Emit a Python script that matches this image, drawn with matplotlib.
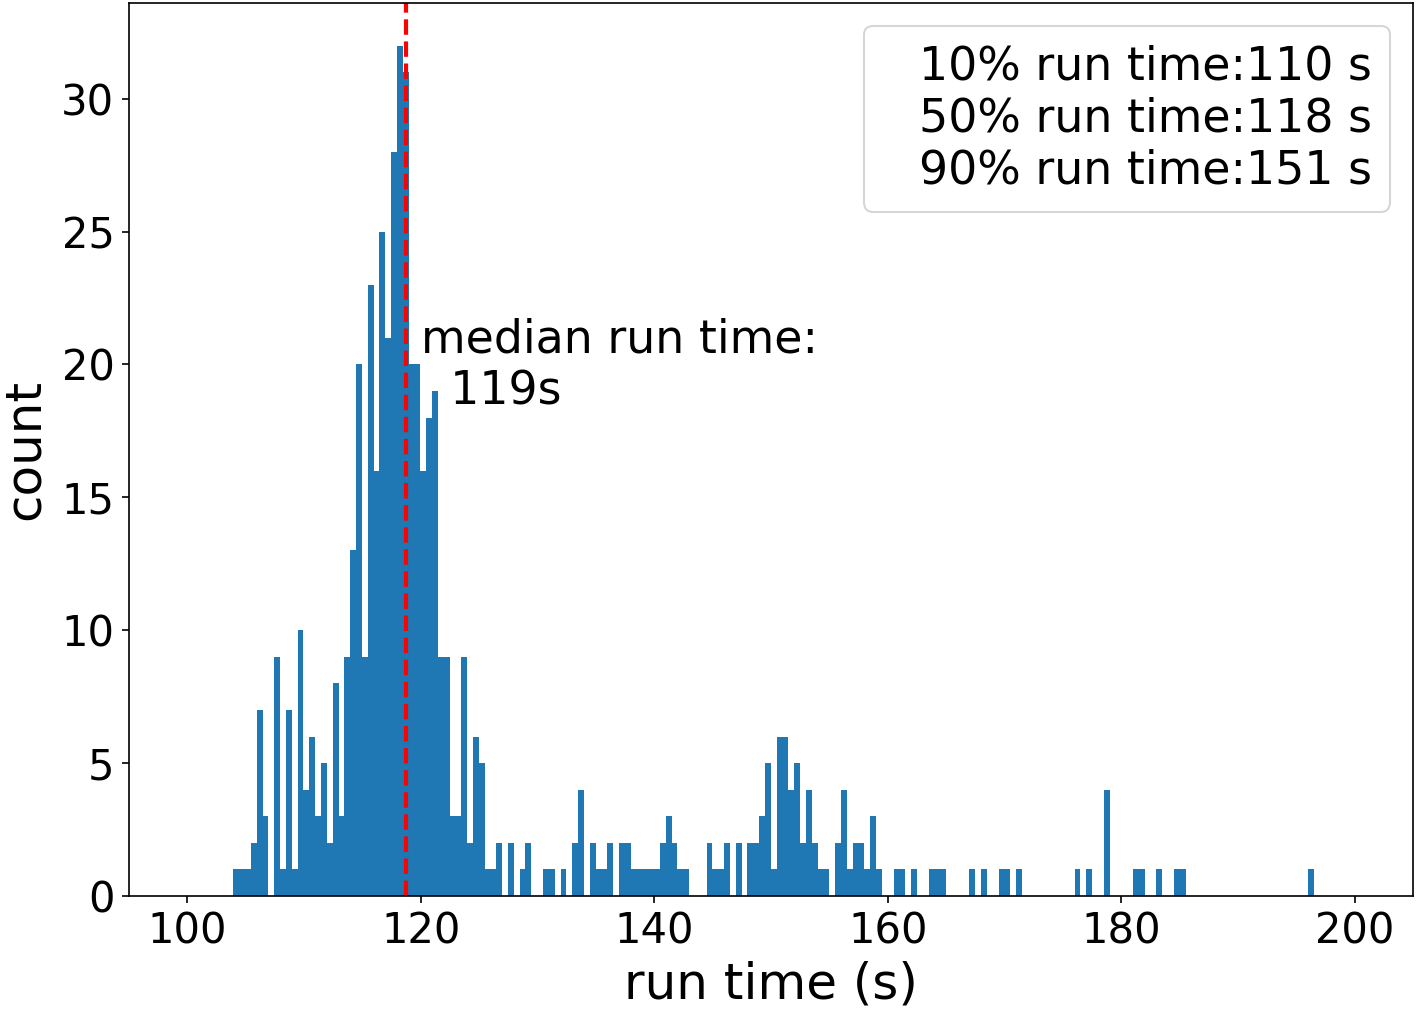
import matplotlib
matplotlib.use('Agg')
import matplotlib.pyplot as plt
import numpy as np

# ---- data ----
bin_start = 103.94
bin_width = 0.5005
counts = [
    1, 1, 1, 2, 7, 3, 0,
    9, 1, 7, 1, 10, 4, 6, 3, 5, 2, 8, 3, 9,
    13, 20, 9, 23, 16, 25, 21, 28, 32, 31, 20, 20, 16, 18, 19, 9, 9, 3, 3, 9, 2,
    6, 5, 1, 1, 2, 0, 2, 0, 1, 2, 0, 0, 1, 1, 0, 1, 0, 2, 4, 0,
    2, 1, 1, 2, 0, 2, 2, 1, 1, 1, 1, 1, 2, 3, 2, 1, 1, 0, 0, 0,
    2, 1, 1, 2, 0, 2, 0, 2, 2, 3, 5, 1, 6, 6, 4, 5, 2, 4, 2, 1, 1, 0, 2, 4, 1, 2, 2, 1, 3, 1, 0, 0, 1, 1,
    0, 1, 0, 0, 1, 1, 1, 0, 0, 0, 0, 1, 0, 1, 0, 0, 1, 1, 0, 1,
    0, 0, 0, 0, 0, 0, 0, 0, 0, 1, 0, 1, 0, 0, 4, 0, 0, 0, 0, 1,
    1, 0, 0, 1, 0, 0, 1, 1,
    0, 0, 0, 0, 0, 0, 0, 0, 0, 0, 0, 0, 0, 0, 0, 0, 0, 0, 0, 0, 0,
    1,
]
median_value = 118.7
annotation_text = 'median run time:\n  119s'
annotation_pos = (120.0, 18.5)
legend_lines = ['10% run time:110 s', '50% run time:118 s', '90% run time:151 s']
x_ticks = [100, 120, 140, 160, 180, 200]
y_ticks = [0, 5, 10, 15, 20, 25, 30]

# ---- figure ----
fig = plt.figure(figsize=(1418 / 150, 1011 / 150), dpi=150)
ax = fig.add_axes([129 / 1418, 115 / 1011, (1413 - 129) / 1418, (1008 - 115) / 1011])

edges = bin_start + bin_width * np.arange(len(counts) + 1)
centers = (edges[:-1] + edges[1:]) / 2
_, _, bars = ax.hist(centers, bins=edges, weights=counts, color='#1f77b4')

ax.axvline(median_value, color='red', linestyle='--', linewidth=2)
ax.text(annotation_pos[0], annotation_pos[1], annotation_text, fontsize=22)

ax.set_xlim(95, 205)
ax.set_xticks(x_ticks)
ax.set_yticks(y_ticks)
ax.tick_params(labelsize=20)
ax.set_xlabel('run time (s)', fontsize=24)
ax.set_ylabel('count', fontsize=24, labelpad=6)

ax.legend([bars], ['\n'.join(legend_lines)], fontsize=22, handlelength=0,
          loc='upper right')

fig.savefig('out.png', dpi=150)
